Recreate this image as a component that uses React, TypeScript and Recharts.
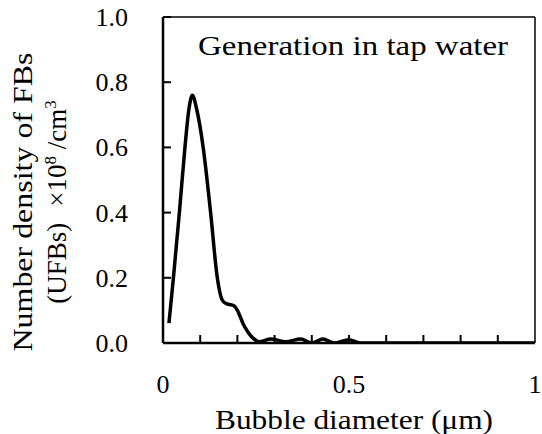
import React from 'react';
import { LineChart, Line, XAxis, YAxis, ReferenceLine, Label } from 'recharts';

// bubble diameter (µm)
const diameter = [
  0.016, 0.028, 0.044, 0.059, 0.07, 0.079, 0.09, 0.108, 0.128, 0.146, 0.16, 0.172, 0.19, 0.2, 0.215,
  0.242, 0.258, 0.29, 0.33, 0.37, 0.4, 0.43, 0.46, 0.5, 0.53, 0.6, 0.7, 0.8, 0.9, 1.0,
];
// number density (x10^8 /cm3)
const density = [
  0.061, 0.2, 0.4, 0.6, 0.72, 0.76, 0.72, 0.6, 0.4, 0.2, 0.13, 0.12, 0.115, 0.1, 0.06,
  0.015, 0.004, 0.012, 0.004, 0.012, 0.0, 0.012, 0.0, 0.01, 0.0, 0.0, 0.0, 0.0, 0.0, 0.0,
];

const xTicks = [0.1, 0.2, 0.3, 0.4, 0.5, 0.6, 0.7, 0.8, 0.9];
const xLabelTicks = [0, 0.5, 1];
const yTicks = [0, 0.2, 0.4, 0.6, 0.8, 1.0];

const data = diameter.map((d, i) => ({ d, v: density[i] }));

const FONT = '"Liberation Serif", "Times New Roman", serif';
const TICK_LEN = 8;

// inward tick marks: only the end of each reference line near the axis is drawn
const XTickMark = (props: any) => {
  const { x1, y1, y2 } = props;
  const yb = Math.max(y1, y2);
  return <line x1={x1} x2={x1} y1={yb} y2={yb - TICK_LEN} stroke="#000" strokeWidth={2} />;
};
const YTickMark = (props: any) => {
  const { x1, x2, y1 } = props;
  const xl = Math.min(x1, x2);
  return <line x1={xl} x2={xl + TICK_LEN} y1={y1} y2={y1} stroke="#000" strokeWidth={2} />;
};

const XTickLabel = (props: any) => {
  const { x, y, payload } = props;
  return (
    <text x={x} y={y + 20} textAnchor="middle" fontFamily={FONT} fontSize={26} fill="#000">
      {String(payload.value)}
    </text>
  );
};
const YTickLabel = (props: any) => {
  const { x, y, payload } = props;
  return (
    <text x={x} y={y + 9} textAnchor="end" fontFamily={FONT} fontSize={26} fill="#000">
      {Number(payload.value).toFixed(1)}
    </text>
  );
};

const YTitle = () => (
  <g fontFamily={FONT} fontSize={27} fill="#000">
    <text transform="translate(32,202) rotate(-90)" textAnchor="middle" textLength={299} lengthAdjust="spacingAndGlyphs">
      Number density of FBs
    </text>
    <text transform="translate(66,202) rotate(-90)" textAnchor="middle">
      (UFBs)
      <tspan dx={16}>×10</tspan>
      <tspan dy={-10} fontSize={17}>8</tspan>
      <tspan dy={10}> /cm</tspan>
      <tspan dy={-10} fontSize={17}>3</tspan>
    </text>
  </g>
);

const XTitle = () => (
  <text x={354} y={429} textAnchor="middle" fontFamily={FONT} fontSize={27} fill="#000" textLength={278} lengthAdjust="spacingAndGlyphs">
    Bubble diameter (μm)
  </text>
);

const Title = () => (
  <text x={353} y={55} textAnchor="middle" fontFamily={FONT} fontSize={28} fill="#000" textLength={310} lengthAdjust="spacingAndGlyphs">
    Generation in tap water
  </text>
);

export default function App() {
  return (
    <div style={{ position: 'absolute', left: 0, top: 0, background: '#fff' }}>
      <LineChart
        width={542}
        height={434}
        data={data}
        margin={{ top: 17, right: 7, bottom: 61, left: 103 }}
      >
        <XAxis
          dataKey="d"
          type="number"
          domain={[0, 1]}
          ticks={xLabelTicks}
          interval={0}
          height={30}
          axisLine={{ stroke: '#000', strokeWidth: 2.5 }}
          tickLine={false}
          tickSize={0}
          tickMargin={30}
          tick={XTickLabel}
        >
          <Label content={<XTitle />} />
        </XAxis>
        <YAxis
          type="number"
          domain={[0, 1]}
          ticks={yTicks}
          interval={0}
          width={60}
          allowDataOverflow
          axisLine={{ stroke: '#000', strokeWidth: 2.5 }}
          tickLine={false}
          tickSize={0}
          tickMargin={35}
          tick={YTickLabel}
        >
          <Label content={<YTitle />} />
        </YAxis>
        {xTicks.map((t) => (
          <ReferenceLine key={`xt${t}`} x={t} stroke="#000" shape={XTickMark} />
        ))}
        {yTicks.map((t) => (
          <ReferenceLine key={`yt${t}`} y={t} stroke="#000" shape={YTickMark} />
        ))}
        <ReferenceLine y={1} stroke="#000" strokeWidth={1.5}>
          <Label content={<Title />} />
        </ReferenceLine>
        <ReferenceLine x={1} stroke="#000" strokeWidth={1.5} />
        <Line
          type="monotone"
          dataKey="v"
          stroke="#000"
          strokeWidth={3.5}
          dot={false}
          isAnimationActive={false}
        />
      </LineChart>
    </div>
  );
}
